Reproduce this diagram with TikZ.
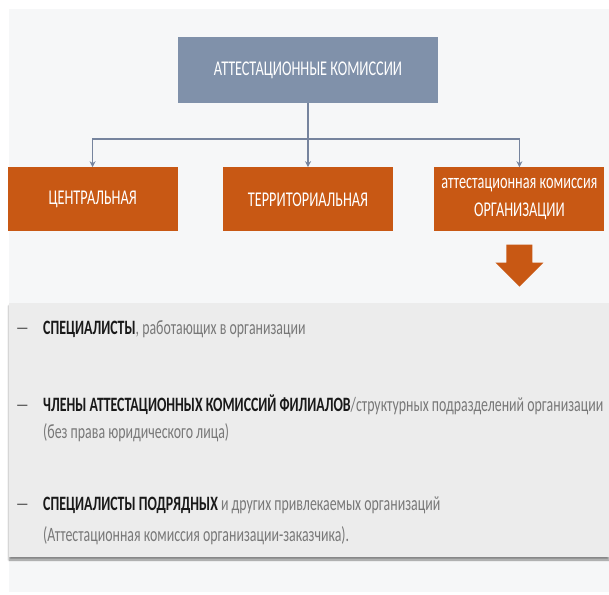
\documentclass[tikz,border=0pt]{standalone}
\usepackage{fontspec}
\setmainfont{Carlito}[FakeStretch=0.68]
\usetikzlibrary{arrows.meta,positioning,shadows.blur}
\definecolor{SlateBlue}{RGB}{128,145,170}
\definecolor{RustOrange}{RGB}{200,88,20}
\definecolor{LinkGray}{RGB}{118,132,158}
\definecolor{PanelGray}{RGB}{236,236,236}
\definecolor{BackGray}{RGB}{246,247,248}
\definecolor{TextGray}{RGB}{120,120,120}
\definecolor{TextDark}{RGB}{25,25,25}
\tikzset{
  headbox/.style={fill=SlateBlue,text=white,minimum width=260pt,
    minimum height=66pt,inner sep=0pt,font=\fontsize{21}{24}\selectfont},
  kindbox/.style={fill=RustOrange,text=white,minimum width=170pt,
    minimum height=64pt,inner sep=0pt,align=center,
    font=\fontsize{21}{28}\selectfont},
  linkarrow/.style={-{Stealth[length=6pt,width=6pt]},
    line width=1.6pt,draw=LinkGray},
  panelbox/.style={fill=PanelGray,minimum width=600pt,minimum height=254pt,
    inner sep=0pt,blur shadow={shadow xshift=0pt,shadow yshift=-3pt,
    shadow blur steps=6,shadow opacity=45}},
  itemline/.style={anchor=base west,inner sep=0pt,text=TextGray,
    font=\fontsize{20.4}{24}\selectfont},
  dashmark/.style={anchor=base west,inner sep=0pt,text=TextDark!70,
    font=\fontsize{20.4}{24}\selectfont},
}

\begin{document}
\begin{tikzpicture}[x=1pt,y=-1pt]
  \useasboundingbox (0,0) rectangle (609,594);
  \fill[BackGray] (9,9) rectangle (609,592);
  \node[headbox] (head) at (308,70) {АТТЕСТАЦИОННЫЕ КОМИССИИ};
  \node[kindbox,below=64pt of head] (terr) {ТЕРРИТОРИАЛЬНАЯ};
  \node[kindbox,left=45pt of terr] (cent) {ЦЕНТРАЛЬНАЯ};
  \node[kindbox,right=41pt of terr] (org) {аттестационная комиссия\\ОРГАНИЗАЦИИ};
  \coordinate[below=36pt of head] (fork);
  \draw[linkarrow,-] (head.south) -- (fork);
  \draw[linkarrow] (fork) -| (cent.north);
  \draw[linkarrow] (fork) -- (terr.north);
  \draw[linkarrow] (fork) -| (org.north);
  % big arrow down to the list
  \coordinate[below=55pt of org.south] (tip);
  \fill[RustOrange] (tip) -- ++(-24,-24) -- ++(11,0) -- ++(0,-18)
    -- ++(26,0) -- ++(0,18) -- ++(11,0) -- cycle;
  \node[panelbox] (list) at (309,430) {};
  \node[dashmark] (d1) at (16,334) {—};
  \node[dashmark] (d2) at (16,411) {—};
  \node[dashmark] (d3) at (16,510) {—};
  \node[itemline] (i1) at (43,334)
    {\textcolor{TextDark}{\bfseries СПЕЦИАЛИСТЫ}, работающих в организации};
  \node[itemline] (i2) at (43,411)
    {\textcolor{TextDark}{\bfseries ЧЛЕНЫ АТТЕСТАЦИОННЫХ КОМИССИЙ ФИЛИАЛОВ}/структурных подразделений организации};
  \node[itemline] (i2b) at (43,438) {(без права юридического лица)};
  \node[itemline] (i3) at (43,510)
    {\textcolor{TextDark}{\bfseries СПЕЦИАЛИСТЫ ПОДРЯДНЫХ} и других привлекаемых организаций};
  \node[itemline] (i3b) at (43,541) {(Аттестационная комиссия организации-заказчика).};
\end{tikzpicture}
\end{document}
